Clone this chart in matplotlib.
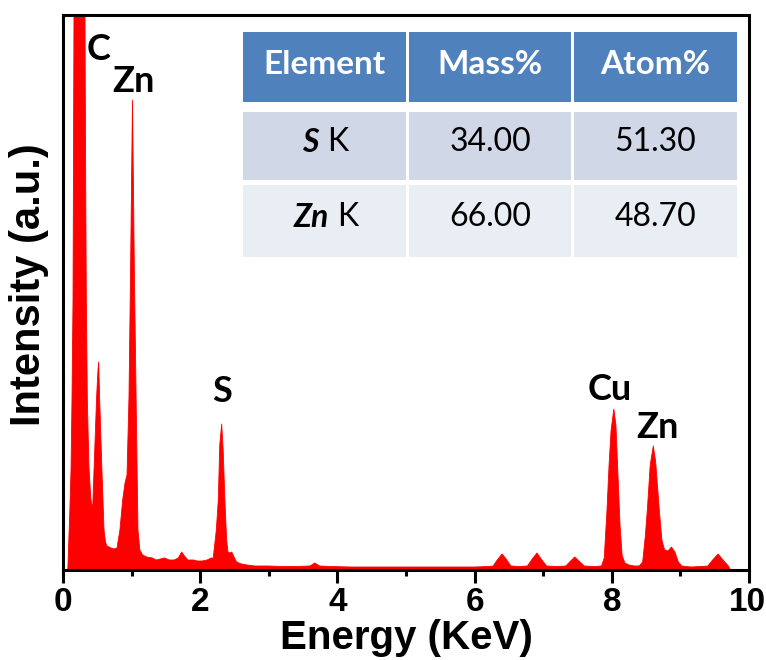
import matplotlib.pyplot as plt
from matplotlib.patches import Rectangle
from matplotlib.ticker import MultipleLocator

# EDS spectrum (energy in keV, intensity in arbitrary units)
energy = [0.07, 0.10, 0.117, 0.131, 0.146, 0.160, 0.24, 0.320, 0.330, 0.340, 0.355, 0.378, 0.405, 0.420,
          0.435, 0.456, 0.490, 0.510, 0.520, 0.535, 0.564, 0.598, 0.620, 0.640, 0.70, 0.74, 0.787, 0.83,
          0.870, 0.904, 0.933, 0.962, 0.985, 1.013, 1.040, 1.065, 1.079, 1.093, 1.12, 1.16, 1.22, 1.30,
          1.36, 1.42, 1.48, 1.55, 1.62, 1.68, 1.73, 1.77, 1.82, 1.90, 1.96, 2.03, 2.10, 2.16, 2.19,
          2.235, 2.264, 2.285, 2.313, 2.335, 2.360, 2.385, 2.405, 2.44, 2.46, 2.50, 2.53, 2.60, 2.68,
          2.80, 3.00, 3.20, 3.40, 3.60, 3.67, 3.74, 3.90, 4.20, 4.50, 4.80, 5.10, 5.40, 5.70, 6.00,
          6.20, 6.27, 6.33, 6.40, 6.46, 6.53, 6.65, 6.77, 6.84, 6.91, 6.97, 7.05, 7.20, 7.33, 7.40,
          7.46, 7.52, 7.60, 7.75, 7.85, 7.89, 7.93, 7.96, 7.99, 8.03, 8.06, 8.09, 8.12, 8.15, 8.19,
          8.25, 8.33, 8.40, 8.45, 8.49, 8.52, 8.56, 8.605, 8.64, 8.69, 8.73, 8.77, 8.82, 8.87, 8.92,
          8.97, 9.02, 9.15, 9.30, 9.40, 9.47, 9.55, 9.62, 9.70, 9.73]
intensity = [0, 60, 100, 170, 270, 560, 1400, 560, 400, 270, 170, 103, 72, 64,
             66, 107, 173, 200, 208, 170, 107, 40, 28, 24, 22, 21, 22, 40,
             70, 87, 95, 173, 300, 470, 300, 173, 107, 40, 20, 15, 13, 12,
             10, 11, 12, 10, 10, 12, 18, 14, 10, 10, 9, 9, 10, 12, 12,
             40, 70, 125, 146, 120, 70, 30, 18, 17, 18, 12, 8, 6, 5,
             4, 4, 3.5, 3.5, 4, 7, 4, 3.5, 3, 3, 3, 3, 3, 3, 3,
             3.5, 4, 10, 16, 11, 4, 3.5, 4, 11, 17, 11, 4, 3.5, 4, 9,
             13, 9, 4, 3.5, 4, 12, 60, 105, 140, 161, 145, 95, 45, 15, 7,
             5, 4, 4, 8, 35, 62, 105, 124, 108, 62, 30, 20, 19, 23, 18,
             8, 4, 3, 3.5, 4, 10, 16, 10, 4, 0]

# peak labels
peak_names = ['C', 'Zn', 'S', 'Cu', 'Zn']
peak_x = [0.525, 1.02, 2.318, 7.97, 8.66]
peak_y = [520, 489, 179, 181, 142]

# x tick labels
xticks = [0, 2, 4, 6, 8, 10]

# composition table
col_headers = ['Element', 'Mass%', 'Atom%']
elements = ['S', 'Zn']
mass_pct = ['34.00', '66.00']
atom_pct = ['51.30', '48.70']

W, H = 766, 660
fig = plt.figure(figsize=(W / 100, H / 100), dpi=100)
ax = fig.add_axes([63 / W, 1 - 570 / H, 686 / W, 555 / H])

ax.fill_between(energy, intensity, color='#ff0000', lw=0)
ax.plot(energy, intensity, color='#ff0000', lw=0.6)

ax.set_xlim(0, 10)
ax.set_ylim(0, 555)
ax.set_xticks(xticks)
ax.xaxis.set_minor_locator(MultipleLocator(1))
ax.set_yticks([])
for sp in ax.spines.values():
    sp.set_linewidth(2.2)
ax.tick_params(axis='x', which='major', direction='out', length=9, width=2.2, labelbottom=False)
ax.tick_params(axis='x', which='minor', direction='out', length=4.5, width=2.2)

# tick labels placed by hand so "10" stays inside the canvas
for v in xticks:
    ha = 'right' if v == xticks[-1] else 'center'
    x = v + 0.25 if v == xticks[-1] else v
    ax.text(x, -0.031, str(v), transform=ax.get_xaxis_transform(), ha=ha, va='top',
            fontfamily='Liberation Sans', fontweight='bold', fontsize=24)

ax.set_xlabel('Energy (KeV)', fontfamily='Liberation Sans', fontweight='bold', fontsize=29, va='baseline')
ax.xaxis.set_label_coords(0.5, -0.142)
ax.set_ylabel('Intensity (a.u.)', fontfamily='Liberation Sans', fontweight='bold', fontsize=30, va='center')
ax.yaxis.set_label_coords(-0.05, 0.514)

for name, x, y in zip(peak_names, peak_x, peak_y):
    ax.text(x, y, name, ha='center', va='center', fontfamily='Lato', fontweight='bold', fontsize=26)

# table drawn in figure pixels
col_edges = [(243, 406), (409, 571), (574, 737)]
row_edges = [(32, 102), (112, 180), (185, 257)]
row_colors = ['#4f81bd', '#d0d8e8', '#e9edf4']


def fx(px):
    return px / W


def fy(py):
    return 1 - py / H


for r, (top, bot) in enumerate(row_edges):
    for left, right in col_edges:
        fig.add_artist(Rectangle((fx(left), fy(bot)), fx(right) - fx(left), fy(top) - fy(bot),
                                 transform=fig.transFigure, facecolor=row_colors[r], edgecolor='none'))

hy = (row_edges[0][0] + row_edges[0][1]) / 2 - 3
for (left, right), text in zip(col_edges, col_headers):
    fig.text(fx((left + right) / 2), fy(hy), text, ha='center', va='center', color='white',
             fontfamily='Lato', fontweight='bold', fontsize=24)

el_right = [319, 329]
for i in range(2):
    top, bot = row_edges[i + 1]
    cy = fy((top + bot) / 2 - 4)
    fig.text(fx(el_right[i]), cy, elements[i], ha='right', va='center', color='black',
             fontfamily='Lato', fontweight='bold', fontstyle='italic', fontsize=23)
    fig.text(fx(el_right[i] + 8), cy, 'K', ha='left', va='center', color='black',
             fontfamily='Lato', fontsize=23)
    for (left, right), val in zip(col_edges[1:], [mass_pct[i], atom_pct[i]]):
        fig.text(fx((left + right) / 2), cy, val, ha='center', va='center', color='black',
                 fontfamily='Lato', fontsize=23)

fig.savefig('out.png', dpi=100)
